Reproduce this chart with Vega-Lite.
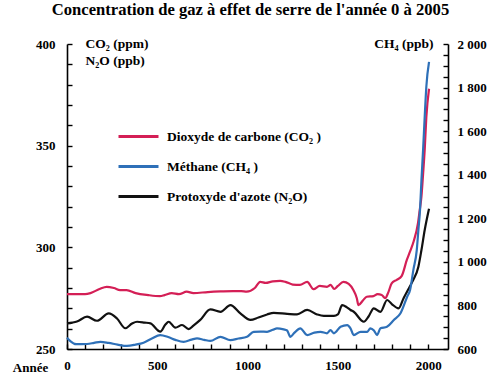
{
  "$schema": "https://vega.github.io/schema/vega-lite/v6.json",
  "width": 381,
  "height": 305,
  "autosize": {"type": "none"},
  "padding": {"left": 67, "top": 44, "right": 53, "bottom": 31},
  "background": "white",
  "title": {
    "text": "Concentration de gaz à effet de serre de l'année 0 à 2005",
    "font": "Liberation Serif",
    "fontSize": 16.6,
    "fontWeight": "bold",
    "color": "black",
    "anchor": "middle",
    "offset": 17,
    "dx": -7
  },
  "data": {
    "values": [
      {"gaz": "CO2", "annee": 0, "valeur": 277},
      {"gaz": "CO2", "annee": 50, "valeur": 277},
      {"gaz": "CO2", "annee": 100, "valeur": 277},
      {"gaz": "CO2", "annee": 130, "valeur": 277.5},
      {"gaz": "CO2", "annee": 180, "valeur": 279.5},
      {"gaz": "CO2", "annee": 220, "valeur": 280.6},
      {"gaz": "CO2", "annee": 260, "valeur": 280},
      {"gaz": "CO2", "annee": 294, "valeur": 279},
      {"gaz": "CO2", "annee": 330, "valeur": 279},
      {"gaz": "CO2", "annee": 380, "valeur": 277.5},
      {"gaz": "CO2", "annee": 450, "valeur": 276.5},
      {"gaz": "CO2", "annee": 515, "valeur": 276},
      {"gaz": "CO2", "annee": 540, "valeur": 276.5},
      {"gaz": "CO2", "annee": 580, "valeur": 277.5},
      {"gaz": "CO2", "annee": 620, "valeur": 277},
      {"gaz": "CO2", "annee": 663, "valeur": 278.2},
      {"gaz": "CO2", "annee": 700, "valeur": 277.5},
      {"gaz": "CO2", "annee": 780, "valeur": 278},
      {"gaz": "CO2", "annee": 850, "valeur": 278.3},
      {"gaz": "CO2", "annee": 920, "valeur": 278.5},
      {"gaz": "CO2", "annee": 965, "valeur": 278.5},
      {"gaz": "CO2", "annee": 995, "valeur": 278.2},
      {"gaz": "CO2", "annee": 1040, "valeur": 280},
      {"gaz": "CO2", "annee": 1070, "valeur": 283},
      {"gaz": "CO2", "annee": 1100, "valeur": 282.5},
      {"gaz": "CO2", "annee": 1140, "valeur": 283.3},
      {"gaz": "CO2", "annee": 1180, "valeur": 283.5},
      {"gaz": "CO2", "annee": 1210, "valeur": 283},
      {"gaz": "CO2", "annee": 1250, "valeur": 281.7},
      {"gaz": "CO2", "annee": 1290, "valeur": 281.5},
      {"gaz": "CO2", "annee": 1330, "valeur": 283},
      {"gaz": "CO2", "annee": 1365, "valeur": 279.4},
      {"gaz": "CO2", "annee": 1400, "valeur": 281},
      {"gaz": "CO2", "annee": 1440, "valeur": 280.6},
      {"gaz": "CO2", "annee": 1460, "valeur": 281.5},
      {"gaz": "CO2", "annee": 1480, "valeur": 279.5},
      {"gaz": "CO2", "annee": 1500, "valeur": 281},
      {"gaz": "CO2", "annee": 1531, "valeur": 283},
      {"gaz": "CO2", "annee": 1560, "valeur": 282},
      {"gaz": "CO2", "annee": 1586, "valeur": 279},
      {"gaz": "CO2", "annee": 1605, "valeur": 275},
      {"gaz": "CO2", "annee": 1614, "valeur": 271.6},
      {"gaz": "CO2", "annee": 1640, "valeur": 274},
      {"gaz": "CO2", "annee": 1660, "valeur": 275.7},
      {"gaz": "CO2", "annee": 1697, "valeur": 276},
      {"gaz": "CO2", "annee": 1720, "valeur": 277},
      {"gaz": "CO2", "annee": 1743, "valeur": 276.6},
      {"gaz": "CO2", "annee": 1762, "valeur": 275},
      {"gaz": "CO2", "annee": 1780, "valeur": 278},
      {"gaz": "CO2", "annee": 1798, "valeur": 282.3},
      {"gaz": "CO2", "annee": 1826, "valeur": 284},
      {"gaz": "CO2", "annee": 1854, "valeur": 286},
      {"gaz": "CO2", "annee": 1882, "valeur": 293.8},
      {"gaz": "CO2", "annee": 1900, "valeur": 298},
      {"gaz": "CO2", "annee": 1920, "valeur": 303},
      {"gaz": "CO2", "annee": 1944, "valeur": 312},
      {"gaz": "CO2", "annee": 1953, "valeur": 318},
      {"gaz": "CO2", "annee": 1963, "valeur": 325},
      {"gaz": "CO2", "annee": 1972, "valeur": 336},
      {"gaz": "CO2", "annee": 1981, "valeur": 348},
      {"gaz": "CO2", "annee": 1990, "valeur": 364},
      {"gaz": "CO2", "annee": 2005, "valeur": 378},
      {"gaz": "N2O", "annee": 0, "valeur": 262.6},
      {"gaz": "N2O", "annee": 30, "valeur": 263},
      {"gaz": "N2O", "annee": 55, "valeur": 263.5},
      {"gaz": "N2O", "annee": 111, "valeur": 265.9},
      {"gaz": "N2O", "annee": 166, "valeur": 263.9},
      {"gaz": "N2O", "annee": 231, "valeur": 267.5},
      {"gaz": "N2O", "annee": 277, "valeur": 265},
      {"gaz": "N2O", "annee": 323, "valeur": 260.2},
      {"gaz": "N2O", "annee": 360, "valeur": 262.5},
      {"gaz": "N2O", "annee": 388, "valeur": 263.4},
      {"gaz": "N2O", "annee": 430, "valeur": 263},
      {"gaz": "N2O", "annee": 462, "valeur": 262.6},
      {"gaz": "N2O", "annee": 517, "valeur": 258.5},
      {"gaz": "N2O", "annee": 545, "valeur": 262},
      {"gaz": "N2O", "annee": 563, "valeur": 263.4},
      {"gaz": "N2O", "annee": 600, "valeur": 260.5},
      {"gaz": "N2O", "annee": 637, "valeur": 261.8},
      {"gaz": "N2O", "annee": 674, "valeur": 259.8},
      {"gaz": "N2O", "annee": 700, "valeur": 261.5},
      {"gaz": "N2O", "annee": 738, "valeur": 264.3},
      {"gaz": "N2O", "annee": 794, "valeur": 269.5},
      {"gaz": "N2O", "annee": 850, "valeur": 268.3},
      {"gaz": "N2O", "annee": 905, "valeur": 271.6},
      {"gaz": "N2O", "annee": 960, "valeur": 267.5},
      {"gaz": "N2O", "annee": 1016, "valeur": 264.3},
      {"gaz": "N2O", "annee": 1060, "valeur": 265.5},
      {"gaz": "N2O", "annee": 1108, "valeur": 267},
      {"gaz": "N2O", "annee": 1145, "valeur": 267.8},
      {"gaz": "N2O", "annee": 1219, "valeur": 267.3},
      {"gaz": "N2O", "annee": 1274, "valeur": 267},
      {"gaz": "N2O", "annee": 1330, "valeur": 269.2},
      {"gaz": "N2O", "annee": 1385, "valeur": 267},
      {"gaz": "N2O", "annee": 1422, "valeur": 266.3},
      {"gaz": "N2O", "annee": 1478, "valeur": 266.3},
      {"gaz": "N2O", "annee": 1500, "valeur": 267},
      {"gaz": "N2O", "annee": 1524, "valeur": 271.6},
      {"gaz": "N2O", "annee": 1550, "valeur": 270.5},
      {"gaz": "N2O", "annee": 1570, "valeur": 269.2},
      {"gaz": "N2O", "annee": 1588, "valeur": 268.3},
      {"gaz": "N2O", "annee": 1644, "valeur": 263.4},
      {"gaz": "N2O", "annee": 1670, "valeur": 266},
      {"gaz": "N2O", "annee": 1699, "valeur": 270},
      {"gaz": "N2O", "annee": 1736, "valeur": 268.3},
      {"gaz": "N2O", "annee": 1773, "valeur": 274.1},
      {"gaz": "N2O", "annee": 1800, "valeur": 272},
      {"gaz": "N2O", "annee": 1836, "valeur": 270},
      {"gaz": "N2O", "annee": 1864, "valeur": 275},
      {"gaz": "N2O", "annee": 1900, "valeur": 281},
      {"gaz": "N2O", "annee": 1918, "valeur": 284},
      {"gaz": "N2O", "annee": 1946, "valeur": 290.5},
      {"gaz": "N2O", "annee": 1963, "valeur": 298.7},
      {"gaz": "N2O", "annee": 1981, "valeur": 308.5},
      {"gaz": "N2O", "annee": 2005, "valeur": 319},
      {"gaz": "CH4", "annee": 0, "valeur": 652},
      {"gaz": "CH4", "annee": 20, "valeur": 635},
      {"gaz": "CH4", "annee": 50, "valeur": 622},
      {"gaz": "CH4", "annee": 111, "valeur": 623},
      {"gaz": "CH4", "annee": 150, "valeur": 628},
      {"gaz": "CH4", "annee": 185, "valeur": 633},
      {"gaz": "CH4", "annee": 230, "valeur": 628},
      {"gaz": "CH4", "annee": 280, "valeur": 620},
      {"gaz": "CH4", "annee": 332, "valeur": 614},
      {"gaz": "CH4", "annee": 380, "valeur": 620},
      {"gaz": "CH4", "annee": 424, "valeur": 629},
      {"gaz": "CH4", "annee": 470, "valeur": 648},
      {"gaz": "CH4", "annee": 516, "valeur": 664},
      {"gaz": "CH4", "annee": 560, "valeur": 655},
      {"gaz": "CH4", "annee": 600, "valeur": 642},
      {"gaz": "CH4", "annee": 646, "valeur": 633},
      {"gaz": "CH4", "annee": 690, "valeur": 643},
      {"gaz": "CH4", "annee": 720, "valeur": 649},
      {"gaz": "CH4", "annee": 760, "valeur": 642},
      {"gaz": "CH4", "annee": 794, "valeur": 637},
      {"gaz": "CH4", "annee": 850, "valeur": 656},
      {"gaz": "CH4", "annee": 905, "valeur": 641},
      {"gaz": "CH4", "annee": 950, "valeur": 648},
      {"gaz": "CH4", "annee": 997, "valeur": 656},
      {"gaz": "CH4", "annee": 1034, "valeur": 679},
      {"gaz": "CH4", "annee": 1070, "valeur": 680},
      {"gaz": "CH4", "annee": 1108, "valeur": 679},
      {"gaz": "CH4", "annee": 1140, "valeur": 688},
      {"gaz": "CH4", "annee": 1163, "valeur": 695},
      {"gaz": "CH4", "annee": 1200, "valeur": 690},
      {"gaz": "CH4", "annee": 1219, "valeur": 685},
      {"gaz": "CH4", "annee": 1237, "valeur": 656},
      {"gaz": "CH4", "annee": 1260, "valeur": 675},
      {"gaz": "CH4", "annee": 1292, "valeur": 695},
      {"gaz": "CH4", "annee": 1330, "valeur": 664},
      {"gaz": "CH4", "annee": 1370, "valeur": 675},
      {"gaz": "CH4", "annee": 1404, "valeur": 679},
      {"gaz": "CH4", "annee": 1440, "valeur": 672},
      {"gaz": "CH4", "annee": 1459, "valeur": 687},
      {"gaz": "CH4", "annee": 1478, "valeur": 672},
      {"gaz": "CH4", "annee": 1515, "valeur": 702},
      {"gaz": "CH4", "annee": 1552, "valeur": 710},
      {"gaz": "CH4", "annee": 1570, "valeur": 695},
      {"gaz": "CH4", "annee": 1588, "valeur": 664},
      {"gaz": "CH4", "annee": 1626, "valeur": 679},
      {"gaz": "CH4", "annee": 1663, "valeur": 679},
      {"gaz": "CH4", "annee": 1680, "valeur": 695},
      {"gaz": "CH4", "annee": 1700, "valeur": 685},
      {"gaz": "CH4", "annee": 1717, "valeur": 664},
      {"gaz": "CH4", "annee": 1736, "valeur": 695},
      {"gaz": "CH4", "annee": 1772, "valeur": 702},
      {"gaz": "CH4", "annee": 1810, "valeur": 733},
      {"gaz": "CH4", "annee": 1847, "valeur": 764},
      {"gaz": "CH4", "annee": 1884, "valeur": 840},
      {"gaz": "CH4", "annee": 1900, "valeur": 871},
      {"gaz": "CH4", "annee": 1918, "valeur": 962},
      {"gaz": "CH4", "annee": 1937, "valeur": 1054},
      {"gaz": "CH4", "annee": 1946, "valeur": 1146},
      {"gaz": "CH4", "annee": 1955, "valeur": 1238},
      {"gaz": "CH4", "annee": 1963, "valeur": 1376},
      {"gaz": "CH4", "annee": 1972, "valeur": 1513},
      {"gaz": "CH4", "annee": 1981, "valeur": 1666},
      {"gaz": "CH4", "annee": 1990, "valeur": 1804},
      {"gaz": "CH4", "annee": 2005, "valeur": 1918}
    ]
  },
  "encoding": {
    "x": {
      "field": "annee",
      "type": "quantitative",
      "scale": {"domain": [0, 2110], "nice": false, "zero": false},
      "axis": {
        "title": "Année",
        "titleX": -37,
        "titleY": 12,
        "titleAlign": "center",
        "titleBaseline": "top",
        "titleAngle": 0,
        "values": [0, 100, 200, 300, 400, 500, 600, 700, 800, 900, 1000, 1100, 1200, 1300, 1400, 1500, 1600, 1700, 1800, 1900, 2000],
        "labelExpr": "datum.value % 500 === 0 ? '' + datum.value : ''",
        "labelPadding": 15
      }
    },
    "color": {
      "field": "gaz",
      "type": "nominal",
      "scale": {"domain": ["CO2", "CH4", "N2O"], "range": ["#d41f56", "#2e70b8", "#111111"]},
      "legend": {
        "orient": "none",
        "legendX": 55,
        "legendY": 76,
        "title": null,
        "padding": 0,
        "symbolType": "M-1.333,0H1.333",
        "symbolSize": 900,
        "symbolStrokeWidth": 3,
        "labelFont": "Liberation Serif",
        "labelFontSize": 13.5,
        "labelFontWeight": "bold",
        "labelColor": "black",
        "labelOffset": 12,
        "rowPadding": 7,
        "labelLimit": 300,
        "labelExpr": "datum.label == 'CO2' ? 'Dioxyde de carbone (CO₂ )' : datum.label == 'CH4' ? 'Méthane (CH₄ )' : \"Protoxyde d'azote (N₂O)\""
      }
    }
  },
  "layer": [
    {
      "transform": [{"filter": {"field": "gaz", "oneOf": ["CO2", "N2O"]}}],
      "mark": {"type": "line", "strokeWidth": 2.2, "interpolate": "monotone"},
      "encoding": {
        "y": {
          "field": "valeur",
          "type": "quantitative",
          "scale": {"domain": [250, 400], "nice": false, "zero": false},
          "axis": {
            "orient": "left",
            "title": ["CO₂  (ppm)", "N₂O (ppb)"],
            "titleAngle": 0,
            "titleAlign": "left",
            "titleBaseline": "top",
            "titleX": 18,
            "titleY": -8,
            "titleFontSize": 13.5,
            "titleLineHeight": 17.5,
            "values": [250, 260, 270, 280, 290, 300, 310, 320, 330, 340, 350, 360, 370, 380, 390, 400],
            "labelExpr": "datum.value % 50 === 0 ? '' + datum.value : ''",
            "labelPadding": 17
          }
        }
      }
    },
    {
      "transform": [{"filter": {"field": "gaz", "equal": "CH4"}}],
      "mark": {"type": "line", "strokeWidth": 2.2, "interpolate": "monotone"},
      "encoding": {
        "y": {
          "field": "valeur",
          "type": "quantitative",
          "scale": {"domain": [600, 2000], "nice": false, "zero": false},
          "axis": {
            "orient": "right",
            "title": "CH₄  (ppb)",
            "titleAngle": 0,
            "titleAlign": "right",
            "titleBaseline": "top",
            "titleX": -15,
            "titleY": -8,
            "titleFontSize": 13.5,
            "values": [600, 650, 700, 750, 800, 850, 900, 950, 1000, 1050, 1100, 1150, 1200, 1250, 1300, 1350, 1400, 1450, 1500, 1550, 1600, 1650, 1700, 1750, 1800, 1850, 1900, 1950, 2000],
            "labelExpr": "datum.value % 200 === 0 ? replace(format(datum.value, ','), ',', ' ') : ''",
            "labelPadding": 14
          }
        }
      }
    }
  ],
  "resolve": {"scale": {"y": "independent"}},
  "config": {
    "view": {"stroke": null},
    "axis": {
      "grid": false,
      "domainColor": "black",
      "domainWidth": 1.6,
      "tickColor": "black",
      "tickWidth": 1.4,
      "tickSize": -5,
      "labelFont": "Liberation Serif",
      "labelFontSize": 13,
      "labelFontWeight": "bold",
      "labelColor": "black",
      "labelFlush": false,
      "labelOverlap": false,
      "labelBound": false,
      "titleFont": "Liberation Serif",
      "titleFontSize": 13,
      "titleFontWeight": "bold",
      "titleColor": "black"
    }
  }
}
